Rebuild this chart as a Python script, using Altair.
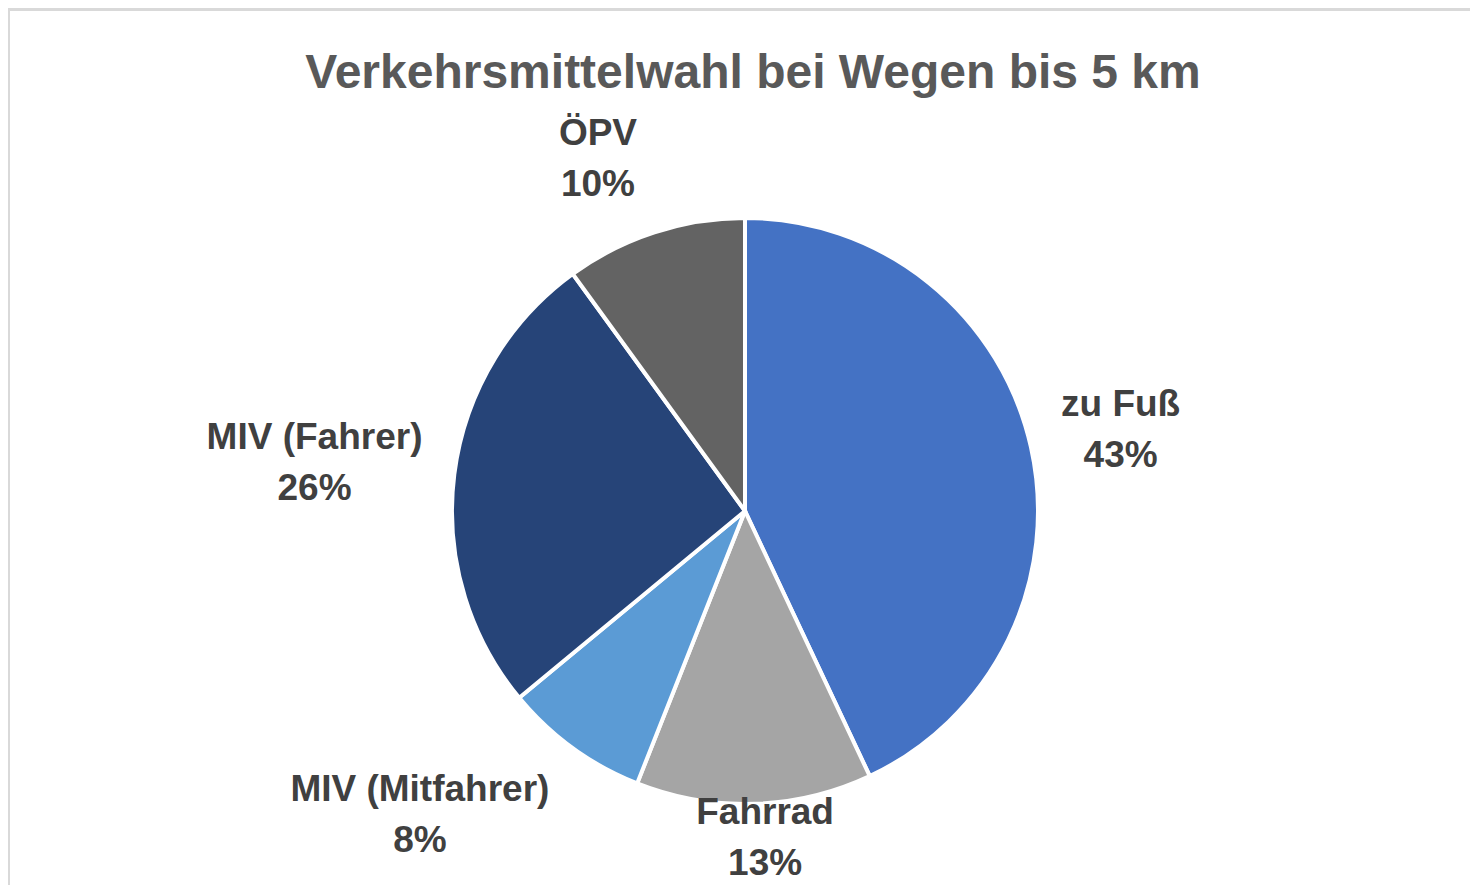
import math
import altair as alt
import pandas as pd

# ---- data ----
categories = ["zu Fuß", "Fahrrad", "MIV (Mitfahrer)", "MIV (Fahrer)", "ÖPV"]
shares = [43, 13, 8, 26, 10]
colors = ["#4472C4", "#A5A5A5", "#5B9BD5", "#264478", "#636363"]
title_text = "Verkehrsmittelwahl bei Wegen bis 5 km"

# ---- layout (label placement relative to slice mid-angle) ----
label_radius = [384, 329, 446, 433, 381]
label_angle_shift_deg = [0.6, -1.7, 10.8, -1.0, -4.7]

W, H = 1462, 877
CX, CY = 737, 503
R = 293
FONT = "Liberation Sans Narrow, Arial Narrow, Liberation Sans, Arial, sans-serif"

total = sum(shares)
rows = []
cum = 0
for i, (c, v) in enumerate(zip(categories, shares)):
    mid = (cum + v / 2) / total * 2 * math.pi
    cum += v
    rows.append({
        "cat": c,
        "value": v,
        "idx": i,
        "pct": f"{v}%",
        "lab_theta": mid + math.radians(label_angle_shift_deg[i]),
        "lab_r": label_radius[i],
    })
df = pd.DataFrame(rows)

base = alt.Chart(df)

pie = base.mark_arc(outerRadius=R, stroke="white", strokeWidth=4).encode(
    theta=alt.Theta("value:Q", stack=True),
    color=alt.Color("cat:N", scale=alt.Scale(domain=categories, range=colors), legend=None),
    order=alt.Order("idx:Q"),
    x=alt.value(CX),
    y=alt.value(CY),
)

def label_layer(field, dy):
    return base.mark_text(
        font=FONT, fontSize=37, fontWeight="bold", color="#404040",
        align="center", baseline="middle", dy=dy,
    ).encode(
        theta=alt.Theta("lab_theta:Q", scale=None, stack=False),
        radius=alt.Radius("lab_r:Q", scale=None),
        text=alt.Text(f"{field}:N"),
        x=alt.value(CX),
        y=alt.value(CY),
    )

names = label_layer("cat", -26)
pcts = label_layer("pct", 25)

title = alt.Chart(pd.DataFrame({"t": [title_text]})).mark_text(
    font=FONT, fontSize=48, fontWeight="bold", color="#595959",
    align="center", baseline="alphabetic",
).encode(text="t:N", x=alt.value(745), y=alt.value(80))

frame_left = alt.Chart(pd.DataFrame({"a": [0]})).mark_rule(
    color="#d9d9d9", strokeWidth=4
).encode(x=alt.value(0), y=alt.value(0), y2=alt.value(H))
frame_top = alt.Chart(pd.DataFrame({"a": [0]})).mark_rule(
    color="#d9d9d9", strokeWidth=6
).encode(x=alt.value(0), x2=alt.value(W), y=alt.value(0))

chart = alt.layer(frame_left, frame_top, pie, names, pcts, title).resolve_scale(
    theta="independent", radius="independent"
).properties(
    width=W, height=H, padding=0, autosize=alt.AutoSizeParams(type="none"),
    background="white",
).configure_view(stroke=None)

chart.save("out.html", embed_options={"renderer": "svg", "actions": False})
